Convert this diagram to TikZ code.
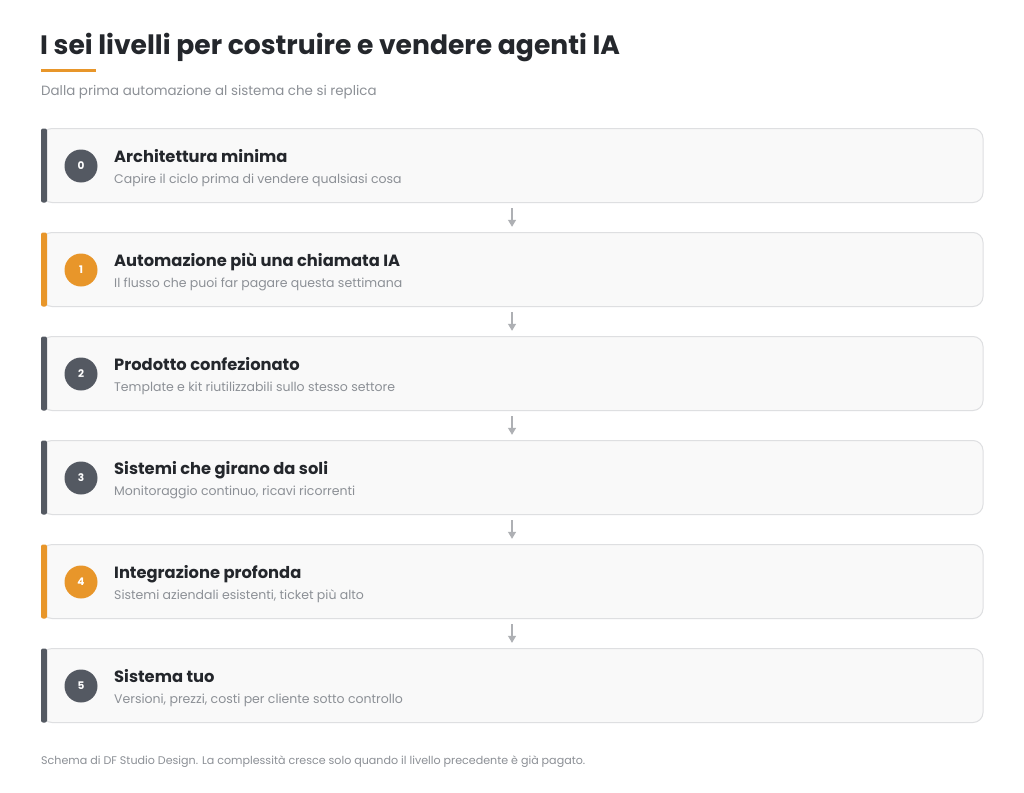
\documentclass[tikz,border=0pt]{standalone}
\usepackage{fontspec}
\setmainfont{Poppins}
\usetikzlibrary{arrows.meta}
\definecolor{ink}{HTML}{24272C}
\definecolor{muted}{HTML}{8C9096}
\definecolor{slate}{HTML}{545962}
\definecolor{amber}{HTML}{E8962A}
\definecolor{boxfill}{HTML}{F9F9F9}
\definecolor{boxline}{HTML}{DEDFE1}
\definecolor{arrowc}{HTML}{AEB0B4}
\tikzset{
  card/.style={draw=boxline, line width=1pt, fill=boxfill, rounded corners=10pt},
  badge/.style={circle, minimum size=33pt, inner sep=0pt, text=white, font=\fontsize{10.5}{12}\selectfont\bfseries},
  ltitle/.style={anchor=base west, inner sep=0pt, text=ink, font=\fontsize{16.3}{19}\selectfont\bfseries},
  lsub/.style={anchor=base west, inner sep=0pt, text=muted, font=\fontsize{12.5}{15}\selectfont},
  flow/.style={draw=arrowc, line width=1.2pt, -{Triangle[length=7pt,width=8pt]}},
}
\begin{document}
\begin{tikzpicture}[x=1pt,y=-1pt]
\useasboundingbox (0,0) rectangle (1024,792);
\fill[white] (0,0) rectangle (1024,792);
\node[anchor=base west, inner sep=0pt, text=ink, font=\fontsize{26.6}{30}\selectfont\bfseries] (title) at (40,55) {I sei livelli per costruire e vendere agenti IA};
\fill[amber] (41,69) rectangle (96,72);
\node[anchor=base west, inner sep=0pt, text=muted, font=\fontsize{13.4}{16}\selectfont] (subtitle) at (41,95) {Dalla prima automazione al sistema che si replica};
\foreach \i/\t/\s/\c [count=\k from 0] in {
  0/Architettura minima/Capire il ciclo prima di vendere qualsiasi cosa/slate,
  1/Automazione più una chiamata IA/Il flusso che puoi far pagare questa settimana/amber,
  2/Prodotto confezionato/Template e kit riutilizzabili sullo stesso settore/slate,
  3/Sistemi che girano da soli/{Monitoraggio continuo, ricavi ricorrenti}/slate,
  4/Integrazione profonda/{Sistemi aziendali esistenti, ticket più alto}/amber,
  5/Sistema tuo/{Versioni, prezzi, costi per cliente sotto controllo}/slate}
{
  \pgfmathsetmacro{\yt}{128.5+104*\k}
  \path[card] (42,\yt) rectangle (983,\yt+74);
  \node[inner sep=0pt, minimum width=0pt] (top\k) at (512,\yt) {};
  \node[inner sep=0pt, minimum width=0pt] (bot\k) at (512,\yt+74) {};
  \fill[\c, rounded corners=2pt] (41,\yt) rectangle (47,\yt+74);
  \node[badge, fill=\c] (b\k) at (81,\yt+37.5) {\i};
  \node[ltitle] (t\k) at (114,\yt+34) {\t};
  \node[lsub] (s\k) at (114,\yt+55) {\s};
}
\foreach \a/\b in {0/1,1/2,2/3,3/4,4/5}{
  \draw[flow] ([yshift=-5pt]bot\a.south) -- ([yshift=5pt]top\b.north);
}
\node[anchor=base west, inner sep=0pt, text=muted, font=\fontsize{11.1}{13}\selectfont] (foot) at (41,764) {Schema di DF Studio Design. La complessità cresce solo quando il livello precedente è già pagato.};
\end{tikzpicture}
\end{document}
